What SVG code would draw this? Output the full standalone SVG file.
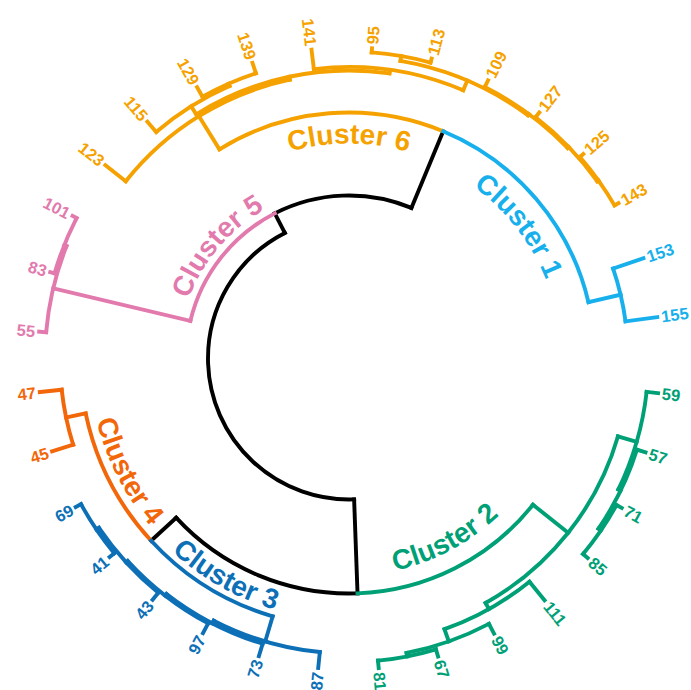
<svg xmlns="http://www.w3.org/2000/svg" width="691" height="690" viewBox="0 0 691 690">
  <style>
    .links line, .links circle { fill: none; stroke-width: 3.9; stroke-linecap: square; }
    .k { stroke: #000; }
    .c1 { stroke: #17B0EC; fill: #17B0EC; }
    .c2 { stroke: #00A077; fill: #00A077; }
    .c3 { stroke: #0D70B6; fill: #0D70B6; }
    .c4 { stroke: #F2670A; fill: #F2670A; }
    .c5 { stroke: #E27AAD; fill: #E27AAD; }
    .c6 { stroke: #F5A200; fill: #F5A200; }
    text { font-family: "Liberation Sans", Arial, sans-serif; font-weight: bold; stroke: none; }
    .leaf text { font-size: 16.5px; }
    .lft { text-anchor: end; }
    .title { font-size: 28px; }
  </style>
  <defs>
    <path id="p6" d="M210.8,193.8 A215,215 0 0,1 487.2,193.8"/>
    <path id="p1" d="M393.1,151.1 A212,212 0 0,1 560.9,365.9"/>
    <path id="p2" d="M303.9,570.8 A217,217 0 0,0 550.2,439.8"/>
    <path id="p3" d="M103.6,450.3 A262,262 0 0,0 396.7,616.1"/>
    <path id="p4" d="M95.7,300.0 A260,260 0 0,0 247.4,597.8"/>
    <path id="p5" d="M178.0,357.3 A171,171 0 0,1 320.5,189.9"/>
  </defs>

  <!-- polar dendrogram: arcs are dashed circles (pathLength 360 = degrees), radials are rotated lines -->
  <g id="connectors" class="links" transform="translate(349 358.5)">
    <g id="links-upper" class="k">
      <circle r="141" pathLength="360" stroke-dasharray="155 999" transform="rotate(87.92)"/>
      <line x1="141" x2="235" transform="rotate(87.92)"/>
      <line x1="141" x2="163" transform="rotate(242.918)"/>
      <circle r="163" pathLength="360" stroke-dasharray="49.59 999" transform="rotate(242.918)"/>
      <line x1="163" x2="246" transform="rotate(292.506)"/>
      <circle r="235" pathLength="360" stroke-dasharray="49.435 999" transform="rotate(87.92)"/>
      <line x1="235" x2="269" transform="rotate(137.355)"/>
    </g>
    <g id="links-cluster-5" class="c5">
      <circle r="163" pathLength="360" stroke-dasharray="49.59 999" transform="rotate(193.33)"/>
      <line x1="163" x2="304" transform="rotate(193.33)"/>
      <circle r="304" pathLength="360" stroke-dasharray="16.74 999" transform="rotate(184.96)"/>
      <line x1="304" x2="311" transform="rotate(184.96)"/>
      <line x1="304" x2="306.5" transform="rotate(201.7)"/>
      <circle r="306.5" pathLength="360" stroke-dasharray="11.16 999" transform="rotate(196.12)"/>
      <line x1="306.5" x2="311" transform="rotate(196.12)"/>
      <line x1="306.5" x2="311" transform="rotate(207.28)"/>
    </g>
    <g id="links-cluster-6" class="c6">
      <circle r="246" pathLength="360" stroke-dasharray="54.27 999" transform="rotate(238.23)"/>
      <line x1="246" x2="285" transform="rotate(238.23)"/>
      <circle r="285" pathLength="360" stroke-dasharray="39.58 999" transform="rotate(218.44)"/>
      <line x1="285" x2="311" transform="rotate(218.44)"/>
      <line x1="285" x2="288" transform="rotate(258.023)"/>
      <circle r="288" pathLength="360" stroke-dasharray="40.11 999" transform="rotate(237.97)"/>
      <line x1="288" x2="297.5" transform="rotate(237.97)"/>
      <circle r="297.5" pathLength="360" stroke-dasharray="16.74 999" transform="rotate(229.6)"/>
      <line x1="297.5" x2="311" transform="rotate(229.6)"/>
      <line x1="297.5" x2="300" transform="rotate(246.34)"/>
      <circle r="300" pathLength="360" stroke-dasharray="11.16 999" transform="rotate(240.76)"/>
      <line x1="300" x2="311" transform="rotate(240.76)"/>
      <line x1="300" x2="311" transform="rotate(251.92)"/>
      <line x1="288" x2="291.5" transform="rotate(278.076)"/>
      <circle r="291.5" pathLength="360" stroke-dasharray="29.99 999" transform="rotate(263.08)"/>
      <line x1="291.5" x2="311" transform="rotate(263.08)"/>
      <line x1="291.5" x2="302" transform="rotate(293.07)"/>
      <circle r="302" pathLength="360" stroke-dasharray="26.5 999" transform="rotate(279.82)"/>
      <line x1="302" x2="307" transform="rotate(279.82)"/>
      <circle r="307" pathLength="360" stroke-dasharray="11.16 999" transform="rotate(274.24)"/>
      <line x1="307" x2="311" transform="rotate(274.24)"/>
      <line x1="307" x2="311" transform="rotate(285.4)"/>
      <line x1="302" x2="303.5" transform="rotate(306.325)"/>
      <circle r="303.5" pathLength="360" stroke-dasharray="19.53 999" transform="rotate(296.56)"/>
      <line x1="303.5" x2="311" transform="rotate(296.56)"/>
      <line x1="303.5" x2="305" transform="rotate(316.09)"/>
      <circle r="305" pathLength="360" stroke-dasharray="16.74 999" transform="rotate(307.72)"/>
      <line x1="305" x2="311" transform="rotate(307.72)"/>
      <line x1="305" x2="306.5" transform="rotate(324.46)"/>
      <circle r="306.5" pathLength="360" stroke-dasharray="11.16 999" transform="rotate(318.88)"/>
      <line x1="306.5" x2="311" transform="rotate(318.88)"/>
      <line x1="306.5" x2="311" transform="rotate(330.04)"/>
    </g>
    <g id="links-cluster-1" class="c1">
      <circle r="246" pathLength="360" stroke-dasharray="54.27 999" transform="rotate(292.506)"/>
      <line x1="246" x2="279" transform="rotate(346.78)"/>
      <circle r="279" pathLength="360" stroke-dasharray="11.16 999" transform="rotate(341.2)"/>
      <line x1="279" x2="311" transform="rotate(341.2)"/>
      <line x1="279" x2="311" transform="rotate(352.36)"/>
    </g>
    <g id="links-cluster-2" class="c2">
      <circle r="235" pathLength="360" stroke-dasharray="49.435 999" transform="rotate(38.485)"/>
      <line x1="235" x2="280" transform="rotate(38.485)"/>
      <circle r="280" pathLength="360" stroke-dasharray="44.64 999" transform="rotate(16.165)"/>
      <line x1="280" x2="299.5" transform="rotate(16.165)"/>
      <circle r="299.5" pathLength="360" stroke-dasharray="19.53 999" transform="rotate(6.4)"/>
      <line x1="299.5" x2="311" transform="rotate(6.4)"/>
      <line x1="299.5" x2="302" transform="rotate(25.93)"/>
      <circle r="302" pathLength="360" stroke-dasharray="16.74 999" transform="rotate(17.56)"/>
      <line x1="302" x2="311" transform="rotate(17.56)"/>
      <line x1="302" x2="305" transform="rotate(34.3)"/>
      <circle r="305" pathLength="360" stroke-dasharray="11.16 999" transform="rotate(28.72)"/>
      <line x1="305" x2="311" transform="rotate(28.72)"/>
      <line x1="305" x2="311" transform="rotate(39.88)"/>
      <line x1="280" x2="287" transform="rotate(60.805)"/>
      <circle r="287" pathLength="360" stroke-dasharray="19.53 999" transform="rotate(51.04)"/>
      <line x1="287" x2="311" transform="rotate(51.04)"/>
      <line x1="287" x2="300" transform="rotate(70.57)"/>
      <circle r="300" pathLength="360" stroke-dasharray="16.74 999" transform="rotate(62.2)"/>
      <line x1="300" x2="311" transform="rotate(62.2)"/>
      <line x1="300" x2="303.5" transform="rotate(78.94)"/>
      <circle r="303.5" pathLength="360" stroke-dasharray="11.16 999" transform="rotate(73.36)"/>
      <line x1="303.5" x2="311" transform="rotate(73.36)"/>
      <line x1="303.5" x2="311" transform="rotate(84.52)"/>
    </g>
    <g id="links-cluster-4" class="c4">
      <circle r="269" pathLength="360" stroke-dasharray="30.865 999" transform="rotate(137.355)"/>
      <line x1="269" x2="289" transform="rotate(168.22)"/>
      <circle r="289" pathLength="360" stroke-dasharray="11.16 999" transform="rotate(162.64)"/>
      <line x1="289" x2="311" transform="rotate(162.64)"/>
      <line x1="289" x2="311" transform="rotate(173.8)"/>
    </g>
    <g id="links-cluster-3" class="c3">
      <circle r="269" pathLength="360" stroke-dasharray="30.865 999" transform="rotate(106.49)"/>
      <line x1="269" x2="295" transform="rotate(106.49)"/>
      <circle r="295" pathLength="360" stroke-dasharray="21.62 999" transform="rotate(95.68)"/>
      <line x1="295" x2="311" transform="rotate(95.68)"/>
      <line x1="295" x2="298" transform="rotate(117.3)"/>
      <circle r="298" pathLength="360" stroke-dasharray="20.93 999" transform="rotate(106.84)"/>
      <line x1="298" x2="311" transform="rotate(106.84)"/>
      <line x1="298" x2="300" transform="rotate(127.765)"/>
      <circle r="300" pathLength="360" stroke-dasharray="19.53 999" transform="rotate(118)"/>
      <line x1="300" x2="311" transform="rotate(118)"/>
      <line x1="300" x2="302" transform="rotate(137.53)"/>
      <circle r="302" pathLength="360" stroke-dasharray="16.74 999" transform="rotate(129.16)"/>
      <line x1="302" x2="311" transform="rotate(129.16)"/>
      <line x1="302" x2="305" transform="rotate(145.9)"/>
      <circle r="305" pathLength="360" stroke-dasharray="11.16 999" transform="rotate(140.32)"/>
      <line x1="305" x2="311" transform="rotate(140.32)"/>
      <line x1="305" x2="311" transform="rotate(151.48)"/>
    </g>
  </g>

  <!-- cluster titles set along their arcs -->
  <g id="cluster-1" class="c1"><text class="title"><textPath href="#p1" startOffset="50%" text-anchor="middle">Cluster 1</textPath></text></g>
  <g id="cluster-2" class="c2"><text class="title"><textPath href="#p2" startOffset="50%" text-anchor="middle">Cluster 2</textPath></text></g>
  <g id="cluster-3" class="c3"><text class="title"><textPath href="#p3" startOffset="50%" text-anchor="middle">Cluster 3</textPath></text></g>
  <g id="cluster-4" class="c4"><text class="title"><textPath href="#p4" startOffset="50%" text-anchor="middle">Cluster 4</textPath></text></g>
  <g id="cluster-5" class="c5"><text class="title"><textPath href="#p5" startOffset="50%" text-anchor="middle">Cluster 5</textPath></text></g>
  <g id="cluster-6" class="c6"><text class="title"><textPath href="#p6" startOffset="50%" text-anchor="middle">Cluster 6</textPath></text></g>

  <!-- leaf labels, right half read outward, left half flipped -->
  <g class="leaf" transform="translate(349 358.5)">
    <g id="leaf-59" class="c2"><text dy=".36em" transform="rotate(6.4) translate(315 0)">59</text></g>
    <g id="leaf-57" class="c2"><text dy=".36em" transform="rotate(17.56) translate(315 0)">57</text></g>
    <g id="leaf-71" class="c2"><text dy=".36em" transform="rotate(28.72) translate(315 0)">71</text></g>
    <g id="leaf-85" class="c2"><text dy=".36em" transform="rotate(39.88) translate(315 0)">85</text></g>
    <g id="leaf-111" class="c2"><text dy=".36em" transform="rotate(51.04) translate(315 0)">111</text></g>
    <g id="leaf-99" class="c2"><text dy=".36em" transform="rotate(62.2) translate(315 0)">99</text></g>
    <g id="leaf-67" class="c2"><text dy=".36em" transform="rotate(73.36) translate(315 0)">67</text></g>
    <g id="leaf-81" class="c2"><text dy=".36em" transform="rotate(84.52) translate(315 0)">81</text></g>
    <g id="leaf-87" class="c3"><text class="lft" dy=".36em" transform="rotate(95.68) translate(315 0) rotate(180)">87</text></g>
    <g id="leaf-73" class="c3"><text class="lft" dy=".36em" transform="rotate(106.84) translate(315 0) rotate(180)">73</text></g>
    <g id="leaf-97" class="c3"><text class="lft" dy=".36em" transform="rotate(118) translate(315 0) rotate(180)">97</text></g>
    <g id="leaf-43" class="c3"><text class="lft" dy=".36em" transform="rotate(129.16) translate(315 0) rotate(180)">43</text></g>
    <g id="leaf-41" class="c3"><text class="lft" dy=".36em" transform="rotate(140.32) translate(315 0) rotate(180)">41</text></g>
    <g id="leaf-69" class="c3"><text class="lft" dy=".36em" transform="rotate(151.48) translate(315 0) rotate(180)">69</text></g>
    <g id="leaf-45" class="c4"><text class="lft" dy=".36em" transform="rotate(162.64) translate(315 0) rotate(180)">45</text></g>
    <g id="leaf-47" class="c4"><text class="lft" dy=".36em" transform="rotate(173.8) translate(315 0) rotate(180)">47</text></g>
    <g id="leaf-55" class="c5"><text class="lft" dy=".36em" transform="rotate(184.96) translate(315 0) rotate(180)">55</text></g>
    <g id="leaf-83" class="c5"><text class="lft" dy=".36em" transform="rotate(196.12) translate(315 0) rotate(180)">83</text></g>
    <g id="leaf-101" class="c5"><text class="lft" dy=".36em" transform="rotate(207.28) translate(315 0) rotate(180)">101</text></g>
    <g id="leaf-123" class="c6"><text class="lft" dy=".36em" transform="rotate(218.44) translate(315 0) rotate(180)">123</text></g>
    <g id="leaf-115" class="c6"><text class="lft" dy=".36em" transform="rotate(229.6) translate(315 0) rotate(180)">115</text></g>
    <g id="leaf-129" class="c6"><text class="lft" dy=".36em" transform="rotate(240.76) translate(315 0) rotate(180)">129</text></g>
    <g id="leaf-139" class="c6"><text class="lft" dy=".36em" transform="rotate(251.92) translate(315 0) rotate(180)">139</text></g>
    <g id="leaf-141" class="c6"><text class="lft" dy=".36em" transform="rotate(263.08) translate(315 0) rotate(180)">141</text></g>
    <g id="leaf-95" class="c6"><text dy=".36em" transform="rotate(274.24) translate(315 0)">95</text></g>
    <g id="leaf-113" class="c6"><text dy=".36em" transform="rotate(285.4) translate(315 0)">113</text></g>
    <g id="leaf-109" class="c6"><text dy=".36em" transform="rotate(296.56) translate(315 0)">109</text></g>
    <g id="leaf-127" class="c6"><text dy=".36em" transform="rotate(307.72) translate(315 0)">127</text></g>
    <g id="leaf-125" class="c6"><text dy=".36em" transform="rotate(318.88) translate(315 0)">125</text></g>
    <g id="leaf-143" class="c6"><text dy=".36em" transform="rotate(330.04) translate(315 0)">143</text></g>
    <g id="leaf-153" class="c1"><text dy=".36em" transform="rotate(341.2) translate(315 0)">153</text></g>
    <g id="leaf-155" class="c1"><text dy=".36em" transform="rotate(352.36) translate(315 0)">155</text></g>
  </g>
</svg>
